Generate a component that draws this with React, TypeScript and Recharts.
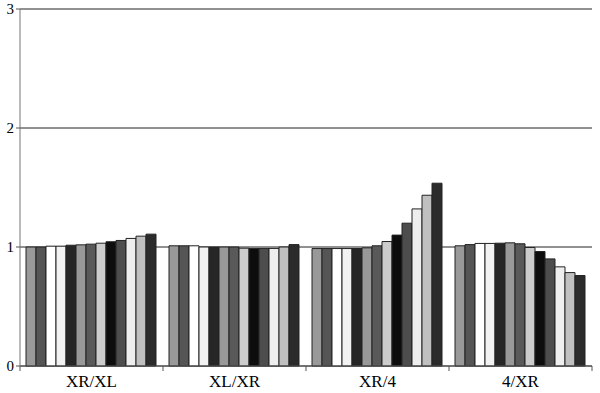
import React from "react";
import {
  BarChart,
  Bar,
  XAxis,
  YAxis,
  CartesianGrid,
} from "recharts";

// ratio chart - four conditions, 13 bars each
const categories = ["XR/XL", "XL/XR", "XR/4", "4/XR"];

const xrXl = [1.0, 1.0, 1.007, 1.007, 1.015, 1.018, 1.024, 1.032, 1.044, 1.055, 1.072, 1.091, 1.108];
const xlXr = [1.01, 1.01, 1.01, 1.0, 1.0, 1.0, 1.0, 0.99, 0.988, 0.988, 0.988, 1.0, 1.02];
const xr4 = [0.987, 0.987, 0.987, 0.987, 0.987, 0.993, 1.01, 1.046, 1.1, 1.2, 1.32, 1.435, 1.536];
const fourXr = [1.01, 1.02, 1.03, 1.03, 1.032, 1.035, 1.027, 0.996, 0.962, 0.9, 0.833, 0.785, 0.76];

const yTicks = [0, 1, 2, 3];

const BAR_COLORS = [
  "#999999",
  "#555555",
  "#ffffff",
  "#f2f2f2",
  "#262626",
  "#999999",
  "#595959",
  "#cccccc",
  "#0d0d0d",
  "#4d4d4d",
  "#eeeeee",
  "#c0c0c0",
  "#2b2b2b",
];

const WIDTH = 600;
const HEIGHT = 393;
const MARGIN = { top: 9, right: 8, bottom: 0, left: 0 };
const Y_AXIS_W = 20;
const PLOT_W = WIDTH - MARGIN.left - MARGIN.right - Y_AXIS_W;
const BAND = PLOT_W / categories.length;
const FONT = '"Liberation Serif", "Times New Roman", serif';

const groups = [xrXl, xlXr, xr4, fourXr];
const seriesKeys = BAR_COLORS.map((_, i) => `s${i + 1}`);

const data = categories.map((name, ci) => {
  const row: Record<string, number | string> = { name };
  groups[ci].forEach((v, si) => {
    row[seriesKeys[si]] = v;
  });
  return row;
});

// x tick: label centred, tick marks on category boundaries
const CategoryTick = ({ x, y, payload, index }: any) => {
  const left = x - BAND / 2;
  const right = x + BAND / 2;
  return (
    <g>
      <line x1={left} y1={y - 8} x2={left} y2={y - 3} stroke="#555" />
      {index === categories.length - 1 && (
        <line x1={right} y1={y - 8} x2={right} y2={y - 3} stroke="#555" />
      )}
      <text
        x={x}
        y={y + 13}
        textAnchor="middle"
        fontSize={17}
        fontFamily={FONT}
        fill="#000"
      >
        {payload.value}
      </text>
    </g>
  );
};

const ValueTick = ({ x, y, payload }: any) => (
  <text
    x={x}
    y={y + 5}
    textAnchor="end"
    fontSize={15}
    fontFamily={FONT}
    fill="#000"
  >
    {payload.value}
  </text>
);

export default function App() {
  return (
    <div
      style={{
        width: WIDTH,
        height: HEIGHT,
        background: "#fff",
        fontFamily: FONT,
      }}
    >
      <style>{`body{margin:0}`}</style>
      <BarChart
        width={WIDTH}
        height={HEIGHT}
        data={data}
        margin={MARGIN}
        barCategoryGap={6}
        barGap={0}
      >
        <CartesianGrid vertical={false} stroke="#222" strokeDasharray="" />
        <XAxis
          dataKey="name"
          height={27}
          tickLine={false}
          axisLine={{ stroke: "#555" }}
          tick={<CategoryTick />}
          interval={0}
        />
        <YAxis
          width={Y_AXIS_W}
          domain={[0, 3]}
          ticks={yTicks}
          tickSize={4}
          tickMargin={2}
          tickLine={{ stroke: "#555" }}
          axisLine={{ stroke: "#777" }}
          tick={<ValueTick />}
        />
        <YAxis
          yAxisId="right"
          orientation="right"
          width={0}
          domain={[0, 3]}
          tick={false}
          tickLine={false}
          axisLine={{ stroke: "#777" }}
        />
        {seriesKeys.map((key, i) => (
          <Bar
            key={key}
            dataKey={key}
            fill={BAR_COLORS[i]}
            stroke="#222"
            strokeWidth={1}
            isAnimationActive={false}
          />
        ))}
      </BarChart>
    </div>
  );
}
